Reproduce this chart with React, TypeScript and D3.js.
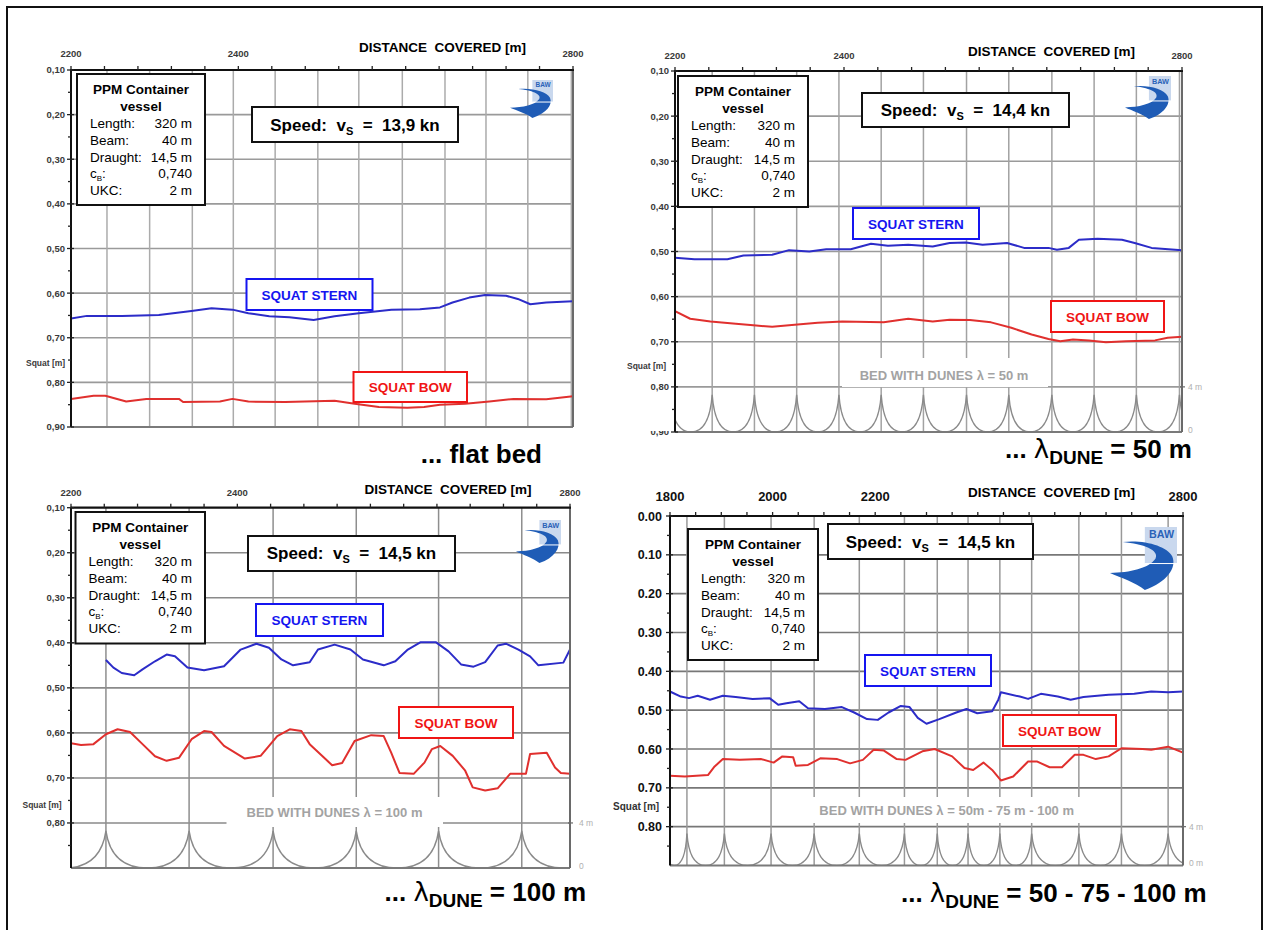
import React from 'react';
import * as d3 from 'd3';

type Pt = [number, number];
type Box = [number, number, number, number];

const SANS = "'Liberation Sans', Arial, sans-serif";

// ship particulars, same in all four runs
const shipLabels = ['Length:', 'Beam:', 'Draught:', 'cB:', 'UKC:'];
const shipValues = ['320 m', '40 m', '14,5 m', '0,740', '2 m'];
const speeds = ['13,9', '14,4', '14,5', '14,5'];

// axis labels
const xLabels2200 = [2200, 2400, 2800];
const xLabels1800 = [1800, 2000, 2200, 2800];
const yTicks090 = [0.1, 0.2, 0.3, 0.4, 0.5, 0.6, 0.7, 0.8, 0.9];
const yTicks080 = [0.1, 0.2, 0.3, 0.4, 0.5, 0.6, 0.7, 0.8];
const yTicks000 = [0, 0.1, 0.2, 0.3, 0.4, 0.5, 0.6, 0.7, 0.8];

// vertical grid lines / dune crests [m]
const gridFlat = [2243, 2294, 2345, 2394, 2444, 2495, 2544, 2596, 2647, 2696, 2746, 2798];
const crests50 = [2194, 2244, 2294, 2344, 2394, 2444, 2494, 2545, 2595, 2646, 2696, 2746, 2797, 2847];
const crests100 = [2142, 2242, 2342, 2443, 2543, 2642, 2742, 2842];
const crestsMixed = [1783, 1833, 1906, 1997, 2081, 2169, 2257, 2321, 2381, 2443, 2505, 2597, 2680, 2771, 2871];
const duneHeight = 3.3; // m, crest above trough

// squat [m] vs distance covered [m]
const flatStern: Pt[] = [
  [2200, 0.657], [2219, 0.651], [2261, 0.651], [2305, 0.649], [2344, 0.64], [2368, 0.634],
  [2393, 0.637], [2412, 0.645], [2437, 0.652], [2461, 0.654], [2490, 0.66], [2515, 0.652],
  [2544, 0.645], [2583, 0.637], [2617, 0.636], [2641, 0.632], [2656, 0.621], [2676, 0.61],
  [2695, 0.604], [2720, 0.606], [2734, 0.613], [2749, 0.625], [2768, 0.621], [2800, 0.618],
];
const flatBow: Pt[] = [
  [2200, 0.837], [2227, 0.83], [2241, 0.83], [2266, 0.843], [2290, 0.837], [2329, 0.837],
  [2334, 0.844], [2378, 0.843], [2393, 0.837], [2412, 0.843], [2456, 0.844], [2515, 0.841],
  [2539, 0.848], [2568, 0.855], [2602, 0.857], [2622, 0.855], [2641, 0.85], [2671, 0.848],
  [2700, 0.843], [2729, 0.837], [2768, 0.838], [2800, 0.831],
];
const dune50Stern: Pt[] = [
  [2200, 0.514], [2223, 0.517], [2262, 0.517], [2281, 0.509], [2315, 0.507], [2335, 0.497],
  [2359, 0.5], [2379, 0.495], [2408, 0.495], [2432, 0.483], [2452, 0.487], [2476, 0.485],
  [2505, 0.489], [2525, 0.481], [2544, 0.48], [2564, 0.485], [2593, 0.481], [2613, 0.492],
  [2642, 0.492], [2652, 0.496], [2666, 0.492], [2678, 0.474], [2700, 0.472], [2729, 0.474],
  [2744, 0.481], [2764, 0.492], [2800, 0.497],
];
const dune50Bow: Pt[] = [
  [2200, 0.632], [2218, 0.649], [2242, 0.655], [2272, 0.66], [2296, 0.664], [2315, 0.667],
  [2345, 0.662], [2369, 0.658], [2398, 0.655], [2447, 0.657], [2476, 0.649], [2505, 0.655],
  [2525, 0.651], [2549, 0.652], [2574, 0.657], [2598, 0.669], [2622, 0.684], [2642, 0.694],
  [2656, 0.699], [2671, 0.695], [2690, 0.697], [2710, 0.701], [2734, 0.699], [2768, 0.697],
  [2783, 0.691], [2800, 0.689],
];
const dune100Stern: Pt[] = [
  [2242, 0.438], [2251, 0.455], [2261, 0.467], [2276, 0.472], [2286, 0.459], [2301, 0.441],
  [2315, 0.426], [2325, 0.43], [2340, 0.455], [2360, 0.461], [2384, 0.452], [2404, 0.415],
  [2423, 0.402], [2438, 0.411], [2453, 0.437], [2467, 0.45], [2487, 0.443], [2497, 0.415],
  [2517, 0.404], [2536, 0.415], [2551, 0.437], [2576, 0.45], [2590, 0.441], [2605, 0.415],
  [2620, 0.399], [2639, 0.399], [2654, 0.419], [2669, 0.448], [2684, 0.453], [2698, 0.443],
  [2713, 0.406], [2723, 0.402], [2738, 0.415], [2752, 0.43], [2762, 0.45], [2792, 0.444],
  [2800, 0.415],
];
const dune100Bow: Pt[] = [
  [2200, 0.623], [2212, 0.627], [2227, 0.625], [2242, 0.603], [2256, 0.592], [2271, 0.598],
  [2286, 0.625], [2301, 0.652], [2315, 0.662], [2330, 0.655], [2345, 0.614], [2360, 0.596],
  [2369, 0.598], [2384, 0.629], [2409, 0.657], [2428, 0.651], [2448, 0.607], [2463, 0.592],
  [2477, 0.596], [2487, 0.625], [2506, 0.658], [2514, 0.672], [2526, 0.667], [2541, 0.618],
  [2561, 0.605], [2576, 0.607], [2585, 0.644], [2595, 0.689], [2612, 0.691], [2625, 0.666],
  [2634, 0.636], [2644, 0.629], [2659, 0.651], [2674, 0.684], [2683, 0.721], [2698, 0.728],
  [2713, 0.723], [2728, 0.691], [2747, 0.691], [2752, 0.647], [2772, 0.644], [2782, 0.677],
  [2789, 0.689], [2800, 0.691], [2800, 0.71],
];
const mixedStern: Pt[] = [
  [1800, 0.452], [1821, 0.465], [1837, 0.469], [1854, 0.463], [1878, 0.473], [1903, 0.463],
  [1928, 0.466], [1961, 0.471], [1994, 0.469], [2011, 0.486], [2027, 0.482], [2052, 0.477],
  [2069, 0.495], [2102, 0.497], [2135, 0.492], [2159, 0.506], [2184, 0.523], [2205, 0.525],
  [2226, 0.506], [2250, 0.489], [2267, 0.492], [2283, 0.52], [2300, 0.535], [2325, 0.523],
  [2358, 0.506], [2378, 0.497], [2399, 0.508], [2428, 0.503], [2440, 0.473], [2445, 0.454],
  [2482, 0.465], [2498, 0.471], [2523, 0.458], [2556, 0.465], [2581, 0.473], [2606, 0.466],
  [2655, 0.46], [2705, 0.458], [2738, 0.452], [2771, 0.454], [2800, 0.452],
];
const mixedBow: Pt[] = [
  [1800, 0.669], [1829, 0.671], [1874, 0.667], [1887, 0.645], [1903, 0.626], [1936, 0.628],
  [1978, 0.626], [2002, 0.635], [2019, 0.619], [2040, 0.621], [2045, 0.643], [2069, 0.641],
  [2093, 0.624], [2126, 0.626], [2151, 0.637], [2176, 0.628], [2197, 0.602], [2217, 0.604],
  [2242, 0.626], [2259, 0.628], [2292, 0.606], [2316, 0.6], [2350, 0.619], [2374, 0.649],
  [2391, 0.654], [2411, 0.635], [2428, 0.654], [2445, 0.681], [2469, 0.671], [2498, 0.632],
  [2515, 0.632], [2540, 0.647], [2564, 0.647], [2589, 0.615], [2606, 0.615], [2630, 0.626],
  [2655, 0.619], [2680, 0.598], [2721, 0.6], [2738, 0.602], [2771, 0.594], [2800, 0.609],
];

type PanelCfg = {
  id: string;
  left: number; right: number; top: number; bottom: number;
  xDomain: [number, number]; yDomain: [number, number];
  xMinor: number; xLabels: number[]; yTicks: number[]; comma: boolean;
  big: boolean; clipLast?: boolean;
  grid: number[]; crests: number[] | null;
  stern: Pt[]; bow: Pt[]; speed: string;
  gridColor: string; hColor: string;
  title: [number, number]; xLabelY: number; squatLbl: [number, number];
  info: Box; speedBox: Box; speedBase: number;
  sternBox: Box; bowBox: Box; logo: Box;
  bed?: { text: string; cx: number; cy: number; box: Box; top: string; zero: string; lx: number };
  caption: { right: number; base: number; value: string | null };
};

const panels: PanelCfg[] = [
  {
    id: 'p1', left: 71, right: 573, top: 70, bottom: 427,
    xDomain: [2200, 2800], yDomain: [0.1, 0.9], xMinor: 40, xLabels: xLabels2200,
    yTicks: yTicks090, comma: true, big: false,
    grid: gridFlat, crests: null, stern: flatStern, bow: flatBow, speed: speeds[0],
    gridColor: '#ababab', hColor: '#9a9a9a',
    title: [359, 52], xLabelY: 57, squatLbl: [26, 366],
    info: [77, 74, 128, 131], speedBox: [252, 107, 206, 35], speedBase: 131,
    sternBox: [246.5, 279, 126, 31], bowBox: [353.5, 372, 113.5, 30], logo: [510, 80, 43, 38],
    caption: { right: 542, base: 463, value: null },
  },
  {
    id: 'p2', left: 675, right: 1182, top: 71, bottom: 432,
    xDomain: [2200, 2800], yDomain: [0.1, 0.9], xMinor: 40, xLabels: xLabels2200,
    yTicks: yTicks090, comma: true, big: false, clipLast: true,
    grid: crests50, crests: crests50, stern: dune50Stern, bow: dune50Bow, speed: speeds[1],
    gridColor: '#a2a2a2', hColor: '#9a9a9a',
    title: [968, 55.5], xLabelY: 59, squatLbl: [627, 369],
    info: [678, 76, 130, 131], speedBox: [862, 93, 207, 34], speedBase: 116,
    sternBox: [853, 208, 126, 31], bowBox: [1051, 301, 113, 31], logo: [1125, 76, 46, 43],
    bed: { text: 'BED WITH DUNES λ = 50 m', cx: 944, cy: 375, box: [842, 358, 206, 29], top: '4 m', zero: '0', lx: 1188 },
    caption: { right: 1192, base: 458, value: '50 m' },
  },
  {
    id: 'p3', left: 71, right: 570, top: 507.7, bottom: 868,
    xDomain: [2200, 2800], yDomain: [0.1, 0.9], xMinor: 40, xLabels: xLabels2200,
    yTicks: yTicks080, comma: true, big: false,
    grid: crests100, crests: crests100, stern: dune100Stern, bow: dune100Bow, speed: speeds[2],
    gridColor: '#8e8e8e', hColor: '#8a8a8a',
    title: [364.5, 493.5], xLabelY: 495.5, squatLbl: [22.5, 808],
    info: [75.5, 512, 129.5, 131.5], speedBox: [248, 536, 207, 35], speedBase: 559,
    sternBox: [256, 604, 127, 32], bowBox: [399, 707, 114, 31], logo: [516, 520, 45, 43],
    bed: { text: 'BED WITH DUNES λ = 100 m', cx: 334.5, cy: 812, box: [226.5, 797, 216.5, 30], top: '4 m', zero: '0', lx: 579 },
    caption: { right: 586, base: 901, value: '100 m' },
  },
  {
    id: 'p4', left: 670, right: 1183, top: 516, bottom: 865.5,
    xDomain: [1800, 2800], yDomain: [0, 0.9], xMinor: 50, xLabels: xLabels1800,
    yTicks: yTicks000, comma: false, big: true,
    grid: crestsMixed, crests: crestsMixed, stern: mixedStern, bow: mixedBow, speed: speeds[3],
    gridColor: '#999999', hColor: '#777777',
    title: [968, 497], xLabelY: 501, squatLbl: [613, 810],
    info: [688, 529, 130, 131], speedBox: [828, 524, 205, 35], speedBase: 547.5,
    sternBox: [865, 655, 126, 31], bowBox: [1003, 715, 113, 31], logo: [1110, 527, 67, 63],
    bed: { text: 'BED WITH DUNES λ = 50m - 75 m - 100 m', cx: 946.7, cy: 810, box: [776, 797, 338, 26], top: '4 m', zero: '0 m', lx: 1189 },
    caption: { right: 1206.5, base: 901.7, value: '50 - 75 - 100 m' },
  },
];

function Logo({ b }: { b: Box }) {
  const sx = d3.scaleLinear().domain([0, 1]).range([b[0], b[0] + b[2]]);
  const sy = d3.scaleLinear().domain([0, 1]).range([b[1], b[1] + b[3]]);
  const p = d3.path();
  p.moveTo(sx(0.19), sy(0.24));
  p.bezierCurveTo(sx(0.5), sy(0.2), sx(0.85), sy(0.3), sx(0.93), sy(0.47));
  p.bezierCurveTo(sx(1.0), sy(0.65), sx(0.85), sy(0.88), sx(0.52), sy(1.0));
  p.bezierCurveTo(sx(0.38), sy(0.88), sx(0.15), sy(0.8), sx(0.0), sy(0.73));
  p.bezierCurveTo(sx(0.3), sy(0.72), sx(0.58), sy(0.66), sx(0.68), sy(0.5));
  p.bezierCurveTo(sx(0.74), sy(0.37), sx(0.5), sy(0.27), sx(0.19), sy(0.24));
  p.closePath();
  return (
    <g>
      <rect x={sx(0.52)} y={sy(0)} width={sx(1) - sx(0.52)} height={sy(0.58) - sy(0)} fill="#c9d8ee" />
      <path d={p.toString()} fill="#1f5cb6" />
      <line x1={sx(0.52)} x2={sx(1)} y1={sy(0.58)} y2={sy(0.58)} stroke="#fff" strokeWidth={1} />
      <text x={sx(0.77)} y={sy(0.18)} textAnchor="middle" fontFamily={SANS} fontWeight="bold"
        fontSize={b[3] * 0.17} fill="#2a62b8">BAW</text>
    </g>
  );
}

function ShipBox({ b }: { b: Box }) {
  const [bx, by, bw, bh] = b;
  return (
    <g fontFamily={SANS} fontSize={13.5} fill="#000">
      <rect x={bx} y={by} width={bw} height={bh} fill="#fff" stroke="#111" strokeWidth={2} />
      <text x={bx + bw / 2} y={by + 20} textAnchor="middle" fontWeight="bold">PPM Container</text>
      <text x={bx + bw / 2} y={by + 37} textAnchor="middle" fontWeight="bold">vessel</text>
      {shipLabels.map((l, i) => (
        <g key={l}>
          <text x={bx + 13} y={by + 54 + i * 16.8}>
            {l === 'cB:' ? (<>c<tspan fontSize={8} dy={3}>B</tspan><tspan dy={-3}>:</tspan></>) : l}
          </text>
          <text x={bx + bw - 13} y={by + 54 + i * 16.8} textAnchor="end">{shipValues[i]}</text>
        </g>
      ))}
    </g>
  );
}

function Tag({ b, text, color }: { b: Box; text: string; color: string }) {
  return (
    <g>
      <rect x={b[0]} y={b[1]} width={b[2]} height={b[3]} fill="#fff" stroke={color} strokeWidth={2} />
      <text x={b[0] + b[2] / 2} y={b[1] + b[3] / 2 + 5} textAnchor="middle" fontFamily={SANS}
        fontWeight="bold" fontSize={13.5} fill={color}>{text}</text>
    </g>
  );
}

function Panel({ c }: { c: PanelCfg }) {
  const x = d3.scaleLinear().domain(c.xDomain).range([c.left, c.right]);
  const y = d3.scaleLinear().domain(c.yDomain).range([c.top, c.bottom]);
  const line = d3.line<Pt>().x(d => x(d[0])).y(d => y(d[1]));
  const f2 = d3.format('.2f');
  const fmt = (v: number) => (c.comma ? f2(v).replace('.', ',') : f2(v));
  const minorX = d3.range(c.xDomain[0], c.xDomain[1] + 1, c.xMinor);
  const minorY = d3.range(c.yDomain[0] + 0.05, c.yDomain[1], 0.1);
  const hGrid = c.yTicks.filter(v => v > c.yDomain[0] + 1e-6 && v < c.yDomain[1] - 1e-6);
  const clipId = c.id + 'clip';

  let dunePath = '';
  let duneY: d3.ScaleLinear<number, number> | null = null;
  if (c.crests) {
    const dy = d3.scaleLinear().domain([0, 4]).range([c.bottom, y(0.8)]);
    duneY = dy;
    const p = d3.path();
    const yt = dy(duneHeight);
    const yb = dy(0);
    const cs = c.crests;
    cs.forEach((cr, i) => {
      if (i === cs.length - 1) return;
      const xc = x(cr);
      const xn = x(cs[i + 1]);
      const xt = x((cr + cs[i + 1]) / 2);
      const w = xt - xc;
      if (i === 0) p.moveTo(xc, yt);
      p.bezierCurveTo(xc + 0.08 * w, yt + 0.62 * (yb - yt), xc + 0.38 * w, yb, xt, yb);
      p.bezierCurveTo(xn - 0.38 * w, yb, xn - 0.08 * w, yt + 0.62 * (yb - yt), xn, yt);
    });
    dunePath = p.toString();
  }

  const lblFont = c.big ? 12.5 : 9.5;
  const lblColor = c.big ? '#111' : '#3a3a3a';

  return (
    <g>
      <defs>
        <clipPath id={clipId}>
          <rect x={c.left} y={c.top} width={c.right - c.left} height={c.bottom - c.top} />
        </clipPath>
        <clipPath id={clipId + 'l'}>
          <rect x={c.left - 50} y={c.bottom - 1} width={50} height={12} />
        </clipPath>
      </defs>

      {/* grid */}
      {hGrid.map(v => (
        <line key={'h' + v} x1={c.left} x2={c.right} y1={y(v)} y2={y(v)} stroke={c.hColor} strokeWidth={1.6} />
      ))}
      {c.grid.filter(g => g > c.xDomain[0] && g <= c.xDomain[1]).map(g => (
        <line key={'v' + g} x1={x(g)} x2={x(g)} y1={c.top} y2={c.bottom} stroke={c.gridColor} strokeWidth={1.5} />
      ))}

      {/* bed profile */}
      {c.crests && (
        <path d={dunePath} fill="none" stroke="#8a8a8a" strokeWidth={1.4} clipPath={`url(#${clipId})`} />
      )}

      {/* bed label */}
      {c.bed && (
        <g>
          <rect x={c.bed.box[0]} y={c.bed.box[1]} width={c.bed.box[2]} height={c.bed.box[3]} fill="#fff" />
          <text x={c.bed.cx} y={c.bed.cy + 4.5} textAnchor="middle" fontFamily={SANS} fontWeight="bold"
            fontSize={13} fill="#a3a3a3">{c.bed.text}</text>
          {duneY && (
            <g fontFamily={SANS} fontSize={8.5} fill="#b0b0b0">
              <line x1={c.right - 2} x2={c.right + 3} y1={duneY(4)} y2={duneY(4)} stroke="#666" strokeWidth={1.2} />
              <text x={c.bed.lx} y={duneY(4) + 3}>{c.bed.top}</text>
              <text x={c.bed.lx} y={duneY(0) + 0.5}>{c.bed.zero}</text>
            </g>
          )}
        </g>
      )}

      {/* squat series */}
      <g clipPath={`url(#${clipId})`}>
        <path d={line(c.stern) || ''} fill="none" stroke="#2c2cc8" strokeWidth={2} strokeLinejoin="round" />
        <path d={line(c.bow) || ''} fill="none" stroke="#e0302e" strokeWidth={2} strokeLinejoin="round" />
      </g>

      {/* frame */}
      <line x1={c.left} x2={c.right} y1={c.bottom} y2={c.bottom} stroke="#7a7a7a" strokeWidth={2} />
      <line x1={c.right} x2={c.right} y1={c.top} y2={c.bottom} stroke="#6a6a6a" strokeWidth={2} />
      <line x1={c.left} x2={c.right + 1} y1={c.top} y2={c.top} stroke="#111" strokeWidth={2.2} />
      <line x1={c.left} x2={c.left} y1={c.top - 1} y2={c.bottom} stroke="#111" strokeWidth={2} />
      {minorX.map(v => (
        <line key={'tx' + v} x1={x(v)} x2={x(v)} y1={c.top - 4} y2={c.top} stroke="#222" strokeWidth={1.3} />
      ))}
      {c.yTicks.map(v => (
        <line key={'ty' + v} x1={c.left - 4} x2={c.left + 3} y1={y(v)} y2={y(v)} stroke="#222" strokeWidth={1.3} />
      ))}
      {minorY.map(v => (
        <line key={'my' + v} x1={c.left - 3} x2={c.left} y1={y(v)} y2={y(v)} stroke="#222" strokeWidth={1.3} />
      ))}

      {/* axis labels */}
      <g fontFamily={SANS} fontWeight="bold" fontSize={lblFont} fill={lblColor}>
        {c.xLabels.map(v => (
          <text key={'xl' + v} x={x(v)} y={c.xLabelY} textAnchor="middle" fontSize={c.big ? 13 : lblFont}>{v}</text>
        ))}
        {c.yTicks.map((v, i) => (
          <text key={'yl' + v} x={c.left - (c.big ? 8 : 6)} y={y(v) + lblFont * 0.36} textAnchor="end"
            clipPath={c.clipLast && i === c.yTicks.length - 1 ? `url(#${clipId}l)` : undefined}>{fmt(v)}</text>
        ))}
        <text x={c.squatLbl[0]} y={c.squatLbl[1]} fontSize={c.big ? 10 : 8.5} fill={c.big ? '#333' : '#3a3a3a'}>Squat [m]</text>
      </g>
      <text x={c.title[0]} y={c.title[1]} fontFamily={SANS} fontWeight="bold" fontSize={13.5}
        style={{ whiteSpace: 'pre' }}>DISTANCE  COVERED [m]</text>

      {/* annotations */}
      <Logo b={c.logo} />
      <ShipBox b={c.info} />
      <g>
        <rect x={c.speedBox[0]} y={c.speedBox[1]} width={c.speedBox[2]} height={c.speedBox[3]}
          fill="#fff" stroke="#111" strokeWidth={2} />
        <text x={c.speedBox[0] + c.speedBox[2] / 2} y={c.speedBase} textAnchor="middle" fontFamily={SANS}
          fontWeight="bold" fontSize={17} style={{ whiteSpace: 'pre' }}>
          {'Speed:  v'}<tspan fontSize={11} dy={4}>S</tspan><tspan dy={-4}>{`  =  ${c.speed} kn`}</tspan>
        </text>
      </g>
      <Tag b={c.sternBox} text="SQUAT STERN" color="#1515f0" />
      <Tag b={c.bowBox} text="SQUAT BOW" color="#f01515" />

      {/* caption */}
      <text x={c.caption.right} y={c.caption.base} textAnchor="end" fontFamily={SANS} fontWeight="bold"
        fontSize={26} style={{ whiteSpace: 'pre' }}>
        {c.caption.value === null ? '... flat bed' : (
          <>
            {'... '}
            <tspan fontFamily="'DejaVu Sans', sans-serif" fontWeight="normal">λ</tspan>
            <tspan fontSize={19} dy={6}>DUNE</tspan>
            <tspan dy={-6}>{` = ${c.caption.value}`}</tspan>
          </>
        )}
      </text>
    </g>
  );
}

export default function App() {
  return (
    <div style={{ position: 'absolute', left: 0, top: 0 }}>
      <svg width={1265} height={930} style={{ display: 'block', background: '#fff' }}>
        <rect x={0} y={0} width={1265} height={930} fill="#fff" />
        <path d="M7,932 L7,7 L1262,7 L1262,932" fill="none" stroke="#111" strokeWidth={2} />
        {panels.map(p => <Panel key={p.id} c={p} />)}
      </svg>
    </div>
  );
}
